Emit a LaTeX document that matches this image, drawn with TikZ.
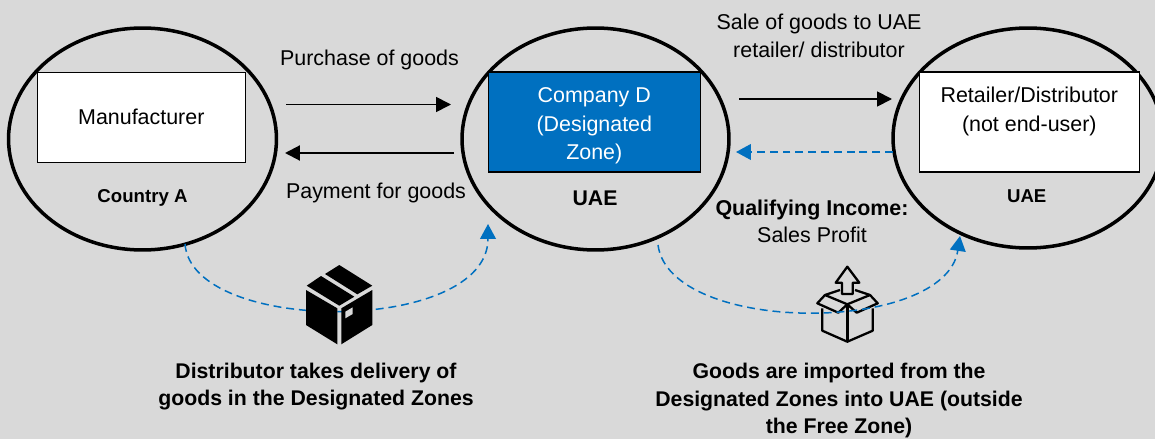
\documentclass[tikz,border=0pt]{standalone}
\usepackage{fontspec}
\setmainfont{Liberation Sans}
\usetikzlibrary{arrows.meta,shapes.geometric}
\definecolor{page_grey}{HTML}{D9D9D9}
\definecolor{flow_blue}{HTML}{0070C0}
\tikzset{
  zone/.style={draw, ellipse, line width=2pt, inner sep=0pt},
  party/.style={draw, rectangle, fill=white, line width=0.6pt, align=center, font=\fontsize{12.2}{16.2}\selectfont, inner sep=0pt},
  caption/.style={align=center, font=\fontsize{12.2}{15.6}\selectfont, inner sep=0pt},
  strong_caption/.style={align=center, font=\fontsize{12.1}{15.5}\selectfont\bfseries, inner sep=0pt},
  small_caption/.style={font=\fontsize{10.6}{12}\selectfont\bfseries, inner sep=0pt},
  flow/.style={-{Triangle[length=8.5pt,width=8.5pt]}, line width=1pt},
  dashed_flow/.style={-{Triangle[length=8.5pt,width=9pt]}, line width=0.85pt, flow_blue, dash pattern=on 4.5pt off 2.8pt},
  icon_line/.style={line width=1.3pt, line join=round}
}
\begin{document}
\begin{tikzpicture}[x=0.02cm, y=-0.02cm]
\useasboundingbox (0,0) rectangle (1155,439);
\fill[page_grey] (0,0) rectangle (1155,439);

% --- Zones ---
\node (zone_a) [zone, minimum width=5.36cm, minimum height=4.44cm] at (142.5,139) {};
\node (zone_uae) [zone, minimum width=5.34cm, minimum height=4.44cm] at (595.5,139) {};
\node (zone_retail) [zone, minimum width=5.4cm, minimum height=4.4cm] at (1028,138) {};

% --- Boxes inside the zones ---
\node (manufacturer) [party, minimum width=4.17cm, minimum height=1.81cm] at (141.3,117.3) {Manufacturer};
\node (company_d) [party, fill=flow_blue, text=white, minimum width=4.25cm, minimum height=2cm] at (594.3,122) {\rule{0pt}{13pt}Company D\\(Designated\\Zone)};
\node (retailer) [party, minimum width=4.39cm, minimum height=2cm] at (1029.3,122) {\rule{0pt}{10.5pt}Retailer/Distributor\\(not end-user)\\~};

\node (label_a) [small_caption] at (142.5,198) {Country A};
\node (label_uae) [strong_caption] at (595,198) {UAE};
\node (label_retail) [small_caption] at (1026.7,196) {UAE};

% --- Flows between the zones ---
\coordinate (buy_start) at (286,104.5);
\coordinate (buy_end) at (451,104.5);
\coordinate (pay_start) at (454,153);
\coordinate (pay_end) at (285,153);
\coordinate (sale_start) at (739,99);
\coordinate (sale_end) at (892,99);
\coordinate (back_start) at (893,152);
\coordinate (back_end) at (736,152);
\draw[flow] (buy_start) -- (buy_end);
\draw[flow, line width=1.2pt] (pay_start) -- (pay_end);
\draw[flow] (sale_start) -- (sale_end);
\draw[dashed_flow] (back_start) -- (back_end);

\node (buy_text) [caption] at (369.5,60) {Purchase of goods};
\node (pay_text) [caption] at (376,193) {Payment for goods};
\node (sale_text) [caption] at (819,36) {Sale of goods to UAE\\retailer/ distributor};
\node (income_text) [caption] at (812,221.5) {\textbf{Qualifying Income:}\\Sales Profit};

% --- Delivery curve and closed box ---
\coordinate (delivery_start) at (185,244);
\coordinate (delivery_end) at (488,224);
\draw[dashed_flow] (delivery_start) .. controls (192,335) and (488,335) .. (delivery_end);
\fill (339.3,265) -- (372.3,285.7) -- (357.3,294.3) -- (325,274) -- cycle;
\fill (321,276) -- (354.3,296.7) -- (339.3,305.7) -- (306.7,285.7) -- cycle;
\fill (306,290) -- (337.3,308.3) -- (337.3,344.3) -- (306,325) -- cycle;
\fill (372.3,290) -- (341.3,308.3) -- (341.3,344.3) -- (372.3,325) -- cycle;
\fill[page_grey] (345.3,311.7) -- (352.7,307.3) -- (352.7,314) -- (345.3,318.3) -- cycle;

\node (delivery_text) [strong_caption] at (316,386.5) {Distributor takes delivery of\\goods in the Designated Zones};

% --- Open box and import curve ---
\draw[icon_line] (847.3,266.7) -- (859.3,282.7) -- (852.7,282.7) -- (852.7,294) -- (842,294) -- (842,282.7) -- (835.7,282.7) -- cycle;
\draw[icon_line] (840,290) -- (825,295) -- (847.3,304.3) -- (870,295) -- (855,290);
\draw[icon_line] (825,295) -- (817.3,303.3) -- (838.3,312.7) -- (847.3,304.3) -- (856.7,312.7) -- (877.7,303.3) -- (870,295);
\draw[icon_line] (822.3,308.3) -- (822.3,330.7) -- (847.3,341.7) -- (872.7,330.7) -- (872.7,308.3);
\draw[line width=1.6pt] (847.3,304.3) -- (847.3,341.7);

\coordinate (import_start) at (658,245);
\coordinate (import_end) at (960,236);
\draw[dashed_flow] (import_start) .. controls (670,335) and (945,335) .. (import_end);

\node (import_text) [strong_caption] at (839,400.5) {Goods are imported from the\\Designated Zones into UAE (outside\\the Free Zone)};
\end{tikzpicture}
\end{document}
